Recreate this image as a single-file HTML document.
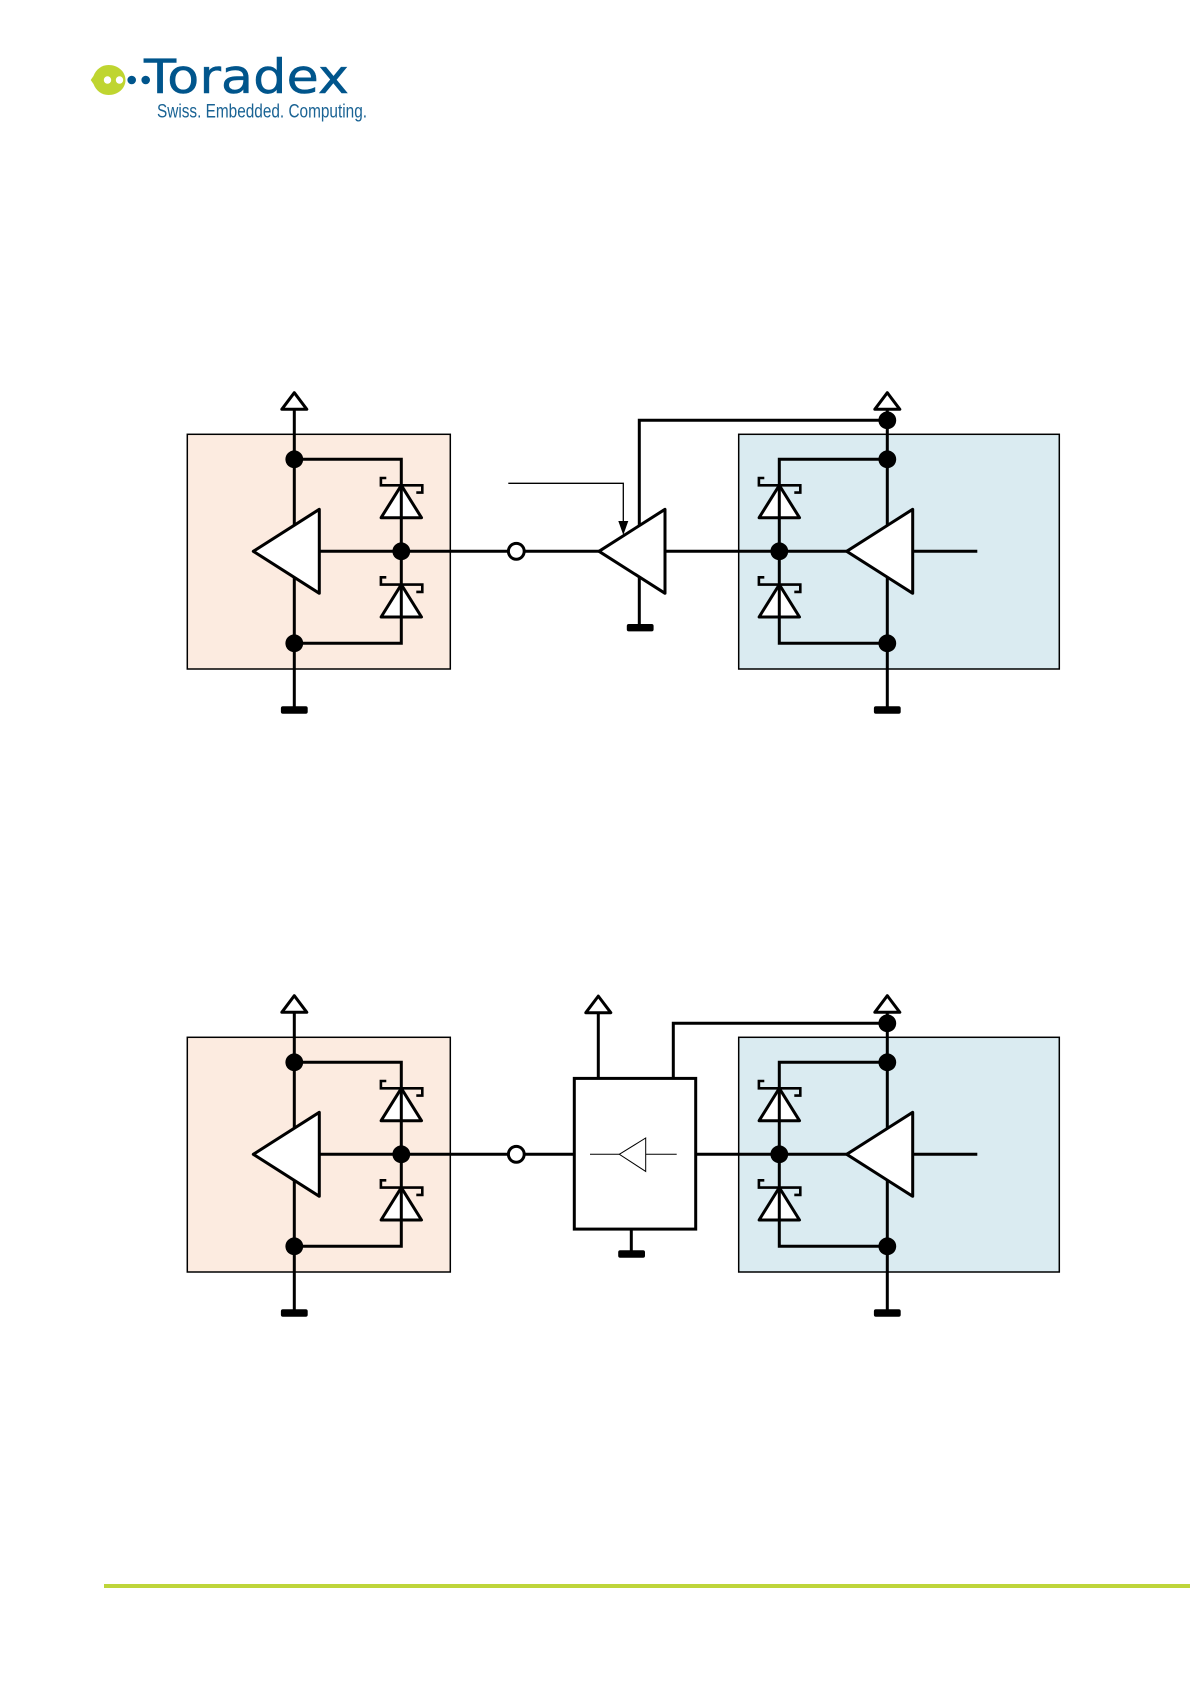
<!DOCTYPE html>
<html>
<head>
<meta charset="utf-8">
<style>
html,body{margin:0;padding:0;background:#fff;width:1191px;height:1684px;overflow:hidden}
svg{display:block;position:absolute;left:0;top:0}
</style>
</head>
<body>
<svg width="1191" height="1684" viewBox="0 0 1191 1684" xmlns="http://www.w3.org/2000/svg">
<defs>
  <g id="vcc" fill="#fff" stroke="#000" stroke-width="3" stroke-linejoin="round">
    <path d="M0 -16.6 L12.5 0 L-12.5 0 Z"/>
  </g>
  <rect id="gnd" x="-13.4" y="-3.7" width="26.8" height="7.4" rx="2" fill="#000"/>
  <g id="diode" fill="none" stroke="#000" stroke-width="3">
    <path d="M0 0 L20.2 32.4 L-20.2 32.4 Z" fill="#fff" stroke-linejoin="round"/>
    <path d="M0 -1 V33"/>
    <path d="M-15 -7.3 H-20.4 V0 H21 V7.3 H15" stroke-width="2.6"/>
  </g>
  <g id="tri">
    <path d="M0 0 L66 -42 L66 42 Z" fill="#fff" stroke="#000" stroke-width="3" stroke-linejoin="round"/>
  </g>
  <g id="left">
    <rect x="187.3" y="434.3" width="263" height="234.7" fill="#fcebe0" stroke="#000" stroke-width="1.5"/>
    <path d="M294.3 409 V710 M294.3 459.3 H401.3 V643.3 H294.3 M319 551.3 H599" fill="none" stroke="#000" stroke-width="3"/>
    <use href="#vcc" x="294.3" y="409.3"/>
    <use href="#gnd" x="294.3" y="710"/>
    <use href="#tri" x="253.3" y="551.3"/>
    <use href="#diode" x="401.3" y="485.3"/>
    <use href="#diode" x="401.3" y="584.6"/>
    <circle cx="294.3" cy="459.3" r="8.9" fill="#000"/>
    <circle cx="294.3" cy="643.3" r="8.9" fill="#000"/>
    <circle cx="401.3" cy="551.3" r="8.9" fill="#000"/>
  </g>
  <g id="right">
    <rect x="738.7" y="434.3" width="320.6" height="234.7" fill="#daebf1" stroke="#000" stroke-width="1.5"/>
    <path d="M887.3 409 V710 M887.3 459.3 H779.3 V643.3 H887.3 M740 551.3 H847 M912 551.3 H977.3" fill="none" stroke="#000" stroke-width="3"/>
    <use href="#vcc" x="887.3" y="409.3"/>
    <use href="#gnd" x="887.3" y="710"/>
    <use href="#tri" x="846.7" y="551.3"/>
    <use href="#diode" x="779.3" y="485.3"/>
    <use href="#diode" x="779.3" y="584.6"/>
    <circle cx="887.3" cy="459.3" r="8.9" fill="#000"/>
    <circle cx="887.3" cy="643.3" r="8.9" fill="#000"/>
    <circle cx="779.3" cy="551.3" r="8.9" fill="#000"/>
    <circle cx="887.3" cy="420.3" r="8.9" fill="#000"/>
  </g>
</defs>

<!-- Logo -->
<path d="M90.7 80 L93.5 76 C96 69.5 101.5 65 108.5 65 C118 65 125.5 71.5 125.5 80 C125.5 88.5 118 95 108.5 95 C101.5 95 96 90.5 93.5 84 Z" fill="#bfd530"/>
<circle cx="107.5" cy="80" r="3.7" fill="#fff"/>
<circle cx="119.5" cy="80" r="3.7" fill="#fff"/>
<circle cx="131.7" cy="80" r="4.3" fill="#00558c"/>
<circle cx="145.7" cy="80" r="4.3" fill="#00558c"/>
<text x="144" y="93" font-family="'DejaVu Sans',sans-serif" font-size="47" fill="#00558c" stroke="#00558c" stroke-width="0.5" textLength="205" lengthAdjust="spacingAndGlyphs">Toradex</text>
<text x="157" y="117.3" font-family="'Liberation Sans',sans-serif" font-size="19" fill="#1a6394" textLength="210" lengthAdjust="spacingAndGlyphs">Swiss. Embedded. Computing.</text>

<!-- Diagram 1 -->
<use href="#left"/>
<use href="#right"/>
<path d="M664 551.3 H740" stroke="#000" stroke-width="3" fill="none"/>
<path d="M639.3 535 V420.3 H887.3" stroke="#000" stroke-width="3" fill="none"/>
<path d="M639.3 570 V627" stroke="#000" stroke-width="3" fill="none"/>
<use href="#tri" x="599" y="551.3"/>
<use href="#gnd" x="640.2" y="627.7"/>
<circle cx="516.3" cy="551.3" r="7.9" fill="#fff" stroke="#000" stroke-width="3"/>
<path d="M508.3 483.3 H623.3 V522" fill="none" stroke="#000" stroke-width="1.3"/>
<path d="M618.3 521 H628.3 L623.3 535 Z" fill="#000"/>

<!-- Diagram 2 -->
<g transform="translate(0,603)">
  <use href="#left"/>
  <use href="#right"/>
  <path d="M696 551.3 H740" stroke="#000" stroke-width="3" fill="none"/>
  <circle cx="516.3" cy="551.3" r="7.9" fill="#fff" stroke="#000" stroke-width="3"/>
  <path d="M673.3 475.7 V420.3 H887.3" fill="none" stroke="#000" stroke-width="3"/>
  <path d="M598.3 475.7 V409.3" fill="none" stroke="#000" stroke-width="3"/>
  <use href="#vcc" x="598.3" y="409.7"/>
  <path d="M631.3 626.4 V651" fill="none" stroke="#000" stroke-width="3"/>
  <use href="#gnd" x="631.6" y="651"/>
  <rect x="574.3" y="475.4" width="121.4" height="150.7" fill="#fff" stroke="#000" stroke-width="3"/>
  <path d="M590 551.3 H620 M645.7 551.3 H676.7" fill="none" stroke="#000" stroke-width="1"/>
  <path d="M619.3 551.3 L645.7 535 L645.7 568.4 Z" fill="#fff" stroke="#000" stroke-width="1"/>
</g>

<!-- Footer line -->
<rect x="104" y="1584" width="1086" height="4" fill="#bed53a"/>
</svg>
</body>
</html>
